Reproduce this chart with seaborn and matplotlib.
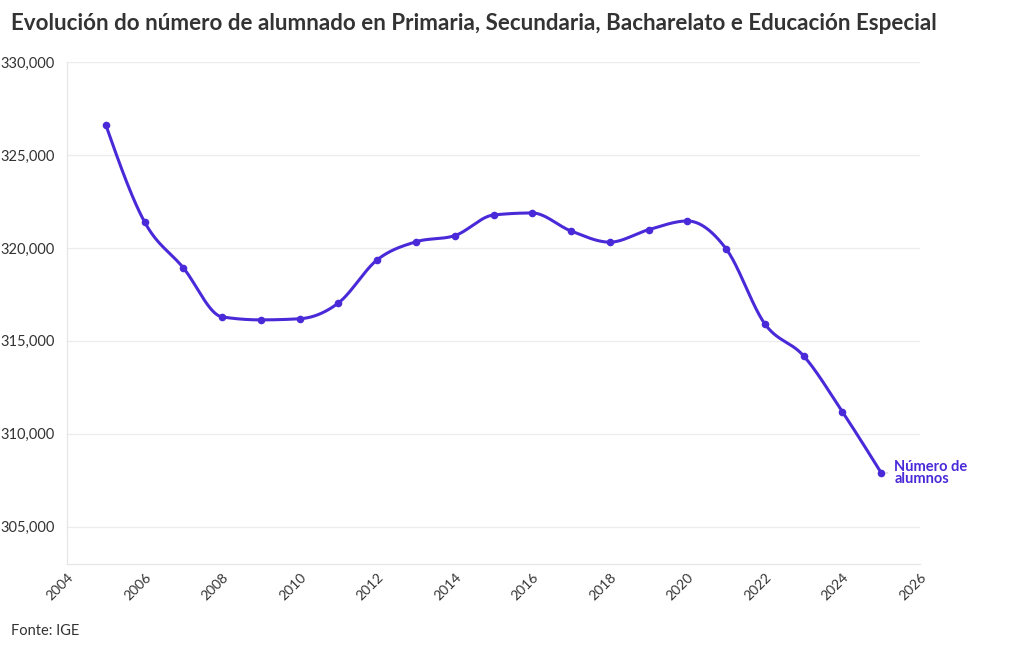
import numpy as np
import pandas as pd
import matplotlib
matplotlib.use("Agg")
import matplotlib.pyplot as plt
import seaborn as sns

years = [2005, 2006, 2007, 2008, 2009, 2010, 2011, 2012, 2013, 2014, 2015,
         2016, 2017, 2018, 2019, 2020, 2021, 2022, 2023, 2024, 2025]
students = [326620, 321400, 318930, 316290, 316130, 316190, 317040, 319360,
            320330, 320660, 321770, 321880, 320910, 320310, 320980, 321450,
            319950, 315910, 314190, 311180, 307900]
x_ticks = list(range(2004, 2027, 2))
y_ticks = [305000, 310000, 315000, 320000, 325000, 330000]

title = "Evolución do número de alumnado en Primaria, Secundaria, Bacharelato e Educación Especial"
series_label = "Número de\nalumnos"
source = "Fonte: IGE"

COLOR = "#4a2ad8"
TEXT = "#333333"

sns.set_theme(style="white")
plt.rcParams["font.family"] = ["Lato", "DejaVu Sans"]

df = pd.DataFrame({"year": years, "students": students})


def monotone(x, y, n=40):
    x = np.asarray(x, float)
    y = np.asarray(y, float)
    h = np.diff(x)
    s = np.diff(y) / h
    m = np.zeros_like(y)
    for i in range(1, len(y) - 1):
        if s[i - 1] * s[i] <= 0:
            m[i] = 0
        else:
            p = (s[i - 1] * h[i] + s[i] * h[i - 1]) / (h[i - 1] + h[i])
            m[i] = (np.sign(s[i - 1]) + np.sign(s[i])) * min(abs(s[i - 1]), abs(s[i]), 0.5 * abs(p))
    m[0] = (3 * s[0] - m[1]) / 2
    m[-1] = (3 * s[-1] - m[-2]) / 2
    xs, ys = [], []
    for i in range(len(x) - 1):
        t = np.linspace(0, 1, n, endpoint=False)
        h00 = 2 * t**3 - 3 * t**2 + 1
        h10 = t**3 - 2 * t**2 + t
        h01 = -2 * t**3 + 3 * t**2
        h11 = t**3 - t**2
        xs.append(x[i] + t * h[i])
        ys.append(h00 * y[i] + h10 * h[i] * m[i] + h01 * y[i + 1] + h11 * h[i] * m[i + 1])
    xs.append([x[-1]])
    ys.append([y[-1]])
    return np.concatenate(xs), np.concatenate(ys)


sx, sy = monotone(years, students)
smooth = pd.DataFrame({"year": sx, "students": sy})

fig = plt.figure(figsize=(10.2, 6.5), dpi=100)
ax = fig.add_axes([67 / 1020, 1 - 564 / 650, (920 - 67) / 1020, (564 - 62) / 650])

sns.lineplot(data=smooth, x="year", y="students", ax=ax, color=COLOR, linewidth=2.2,
             estimator=None, sort=False)
sns.scatterplot(data=df, x="year", y="students", ax=ax, color=COLOR, s=30,
                edgecolor=COLOR, linewidth=0, zorder=5)

ax.set_xlim(2004, 2026)
ax.set_ylim(303000, 330000)
ax.set_xticks(x_ticks)
ax.set_yticks(y_ticks)
ax.set_xticklabels([str(v) for v in x_ticks], rotation=45, ha="right",
                   rotation_mode="anchor", fontsize=10, color=TEXT)
ax.set_yticklabels([f"{v:,}" for v in y_ticks], fontsize=10.5, color=TEXT)
ax.set_xlabel("")
ax.set_ylabel("")
ax.grid(axis="y", color="#ececec", linewidth=0.9)
ax.grid(axis="x", visible=False)
for side in ["top", "right"]:
    ax.spines[side].set_visible(False)
for side in ["left", "bottom"]:
    ax.spines[side].set_color("#e6e6e6")
    ax.spines[side].set_linewidth(0.9)
ax.tick_params(axis="x", length=4, color="#e0e0e0", pad=1)
ax.tick_params(axis="y", length=5, color="#e6e6e6", pad=4)
ax.set_axisbelow(True)

# end label
ax.annotate(series_label, xy=(years[-1], students[-1]), xytext=(9.5, 0),
            textcoords="offset points", fontsize=10.5, fontweight="bold",
            color=COLOR, va="center", ha="left", linespacing=0.85)
ax.annotate("", xy=(years[-1] + 0.12, students[-1]), xytext=(years[-1] + 0.24, students[-1]),
            arrowprops=dict(arrowstyle="-", color="#cccccc", lw=0.8))

fig.text(11 / 1020, 1 - 24 / 650, title, fontsize=16.1, fontweight="bold",
         color=TEXT, va="center", ha="left")
fig.text(11 / 1020, 1 - 631 / 650, source, fontsize=10.5, color=TEXT,
         va="center", ha="left")

fig.savefig("out.png", dpi=100, facecolor="white")
